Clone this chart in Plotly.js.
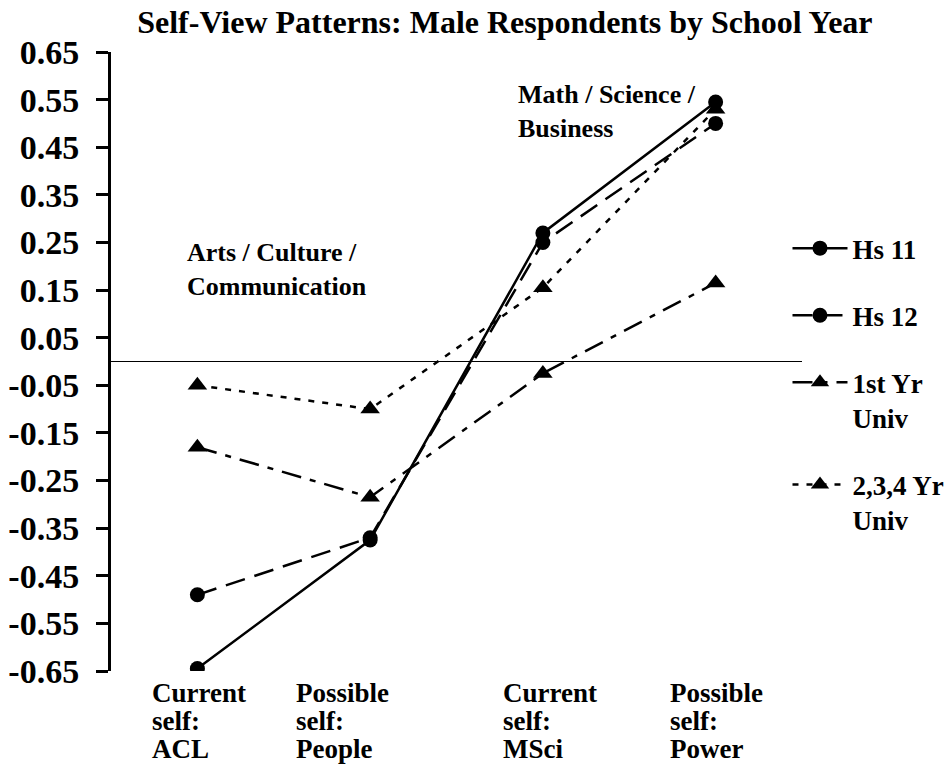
<!DOCTYPE html>
<html>
<head>
<meta charset="utf-8">
<script src="https://cdn.plot.ly/plotly-3.0.1.min.js"></script>
<style>html,body{margin:0;padding:0;background:#fff;}#chart{width:949px;height:765px;}</style>
</head>
<body>
<div id="chart"></div>
<script>
// ---- data ----
const categories = ["ACL", "People", "MSci", "Power"];
const catLine1 = ["Current", "Possible", "Current", "Possible"];
const catLine2 = ["self:", "self:", "self:", "self:"];
const catLine3 = ["ACL", "People", "MSci", "Power"];
const seriesNames = ["Hs 11", "Hs 12", "1st Yr<br>Univ", "2,3,4 Yr<br>Univ"];
const hs11 = [-0.645, -0.375, 0.27, 0.545];
const hs12 = [-0.49, -0.37, 0.25, 0.50];
const yr1 = [-0.18, -0.285, -0.025, 0.165];
const yr234 = [-0.05, -0.10, 0.155, 0.53];
const yTickVals = [0.65, 0.55, 0.45, 0.35, 0.25, 0.15, 0.05, -0.05, -0.15, -0.25, -0.35, -0.45, -0.55, -0.65];
const yTickText = ["0.65", "0.55", "0.45", "0.35", "0.25", "0.15", "0.05", "-0.05", "-0.15", "-0.25", "-0.35", "-0.45", "-0.55", "-0.65"];
const regionLabels = ["Arts / Culture /<br>Communication", "Math / Science /<br>Business"];

// ---- styling ----
const FONT = "'Times New Roman', 'Liberation Serif', 'DejaVu Serif', serif";
const xIdx = categories.map((c, i) => i);
const values = [hs11, hs12, yr1, yr234];
const dashes = ["solid", "20px,10px", "20px,9px,6px,9px", "6px,8px"];
const symbols = ["circle", "circle", "triangle-up", "triangle-up"];
const msize = [15, 15, 17, 17];
const bold = t => "<b>" + t.split("<br>").join("</b><br><b>") + "</b>";

const traces = values.map((v, k) => ({
  x: xIdx, y: v, type: "scatter", mode: "lines+markers",
  name: bold(seriesNames[k]), legendgroup: "g" + k,
  line: {color: "#000", width: 2.5, dash: dashes[k]},
  marker: {color: "#000", size: msize[k], symbol: symbols[k]}
}));

const annotations = [];
const labelShift = [-47, -76, -42, -48];
[catLine1, catLine2, catLine3].forEach((line, li) => {
  line.forEach((t, i) => annotations.push({
    x: i, xref: "x", y: 0, yref: "paper", text: bold(t), showarrow: false,
    xanchor: "left", yanchor: "middle", xshift: labelShift[i], yshift: -22 - 28 * li,
    font: {family: FONT, size: 27, color: "#000"}
  }));
});
annotations.push({x: -0.072, y: 0.194, xref: "x", yref: "y", text: bold(regionLabels[0]), showarrow: false,
  xanchor: "left", yanchor: "middle", align: "left", font: {family: FONT, size: 26, color: "#000"}});
annotations.push({x: 1.844, y: 0.526, xref: "x", yref: "y", text: bold(regionLabels[1]), showarrow: false,
  xanchor: "left", yanchor: "middle", align: "left", font: {family: FONT, size: 26, color: "#000"}});

const layout = {
  width: 949, height: 765,
  paper_bgcolor: "#fff", plot_bgcolor: "#fff",
  font: {family: FONT, color: "#000"},
  margin: {l: 111, r: 147, t: 52, b: 94, autoexpand: false},
  title: {text: bold("Self-View Patterns: Male Respondents by School Year"), x: 0.532, xref: "container", xanchor: "center",
    y: 1 - 22 / 765, yref: "container", yanchor: "middle",
    font: {family: FONT, size: 32, color: "#000"}},
  xaxis: {range: [-0.5, 3.5], showgrid: false, zeroline: false, showline: false, showticklabels: false, ticks: "", fixedrange: true},
  yaxis: {range: [-0.65, 0.65], tickvals: yTickVals, ticktext: yTickText.map(bold), showgrid: false,
    zeroline: true, zerolinecolor: "#000", zerolinewidth: 1.5,
    showline: true, linecolor: "#000", linewidth: 3, ticks: "outside", ticklen: 12, tickwidth: 3, tickcolor: "#000",
    ticklabelstandoff: 10,
    tickfont: {family: FONT, size: 34, color: "#000"}},
  showlegend: true,
  legend: {x: 0.979, xanchor: "left", y: 0.722, yanchor: "top", valign: "top", tracegroupgap: 29, itemwidth: 55,
    font: {family: FONT, size: 27, color: "#000"}, bgcolor: "rgba(0,0,0,0)"},
  annotations: annotations
};

Plotly.newPlot("chart", traces, layout, {displayModeBar: false, staticPlot: true});
</script>
</body>
</html>
